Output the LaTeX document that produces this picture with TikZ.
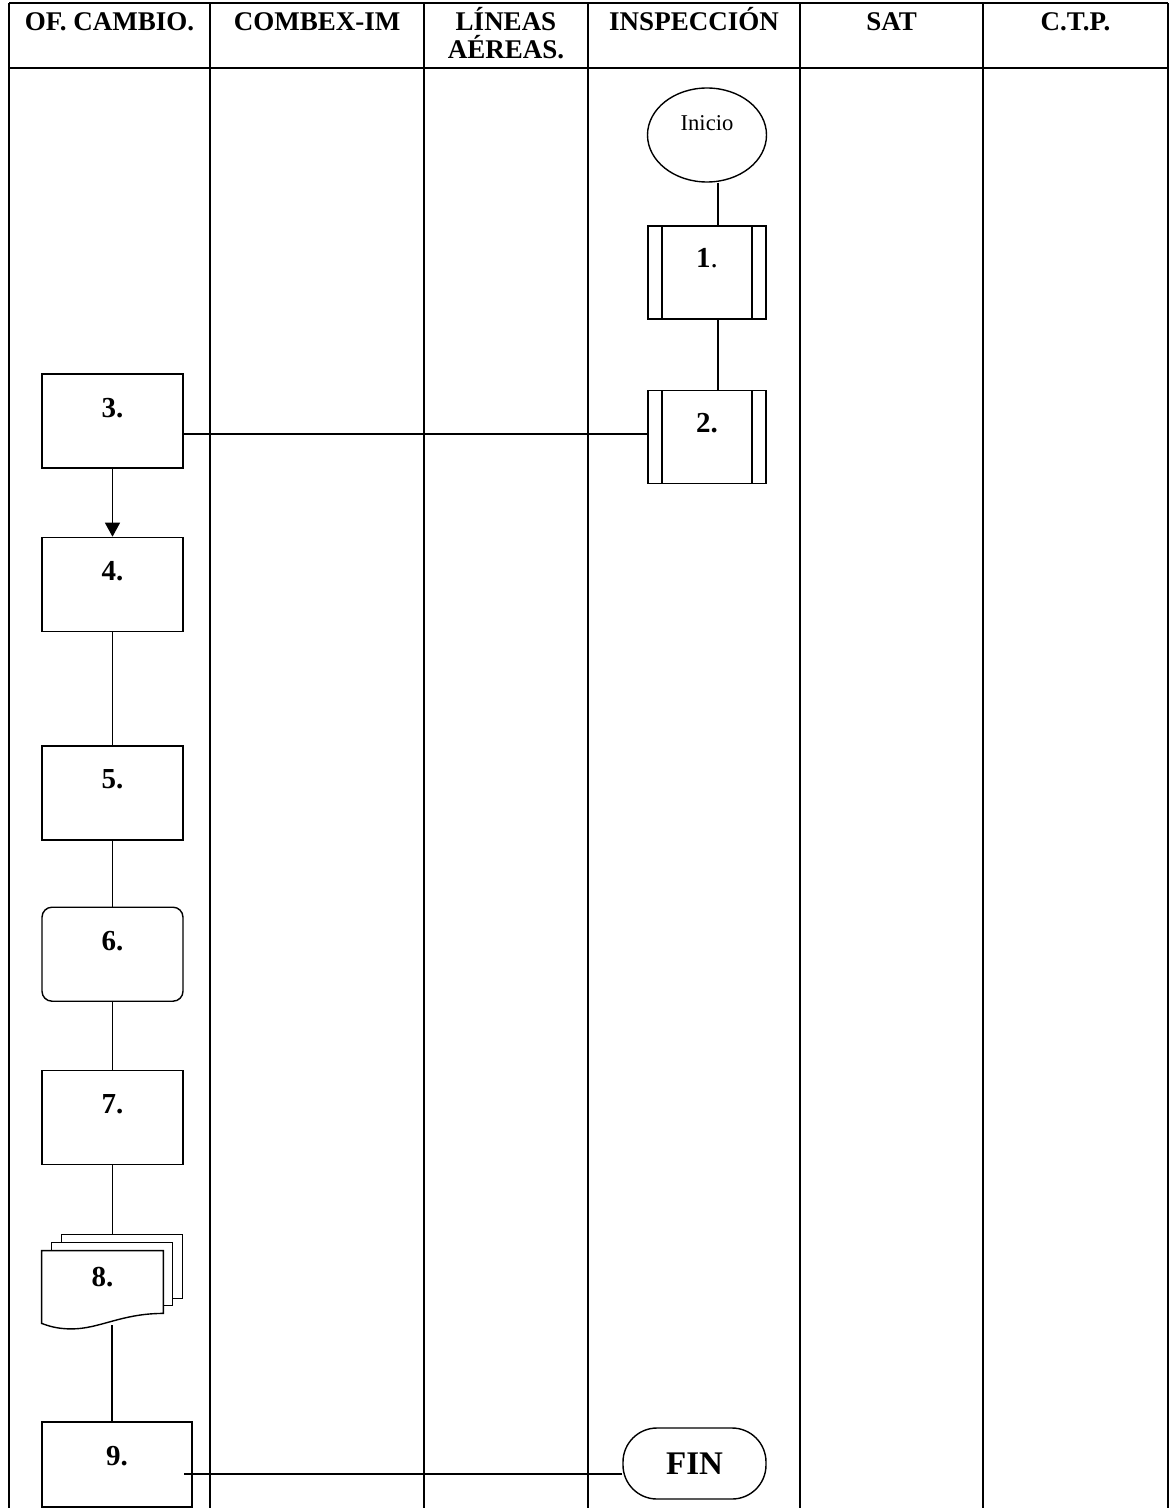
\documentclass[tikz,border=0pt]{standalone}
\usepackage{fontspec}
\setmainfont{Liberation Serif}
\usetikzlibrary{shapes,arrows.meta,positioning,calc}

\begin{document}
\begin{tikzpicture}[
    x=0.5pt, y=-0.5pt,
    node distance=35pt,
    grid/.style={line width=1pt},
    lane/.style={font=\bfseries\fontsize{13.5}{14}\selectfont, align=center, anchor=base, inner sep=0pt},
    proc/.style={rectangle, draw, line width=0.7pt, minimum width=70.5pt, inner sep=0pt, text height=21.5pt, text depth=25.5pt, font=\bfseries\fontsize{14.5}{17}\selectfont},
    subproc/.style={proc, minimum width=59pt, text height=21pt,
        path picture={\draw[line width=0.7pt] ([xshift=7pt]path picture bounding box.north west) -- ([xshift=7pt]path picture bounding box.south west)
                                              ([xshift=-7pt]path picture bounding box.north east) -- ([xshift=-7pt]path picture bounding box.south east);}},
    startnode/.style={ellipse, draw, line width=0.7pt, minimum width=59.5pt, minimum height=47pt, inner sep=0pt, text height=10pt, text depth=14pt, font=\fontsize{11.3}{13}\selectfont},
    endnode/.style={rectangle, draw, line width=0.7pt, rounded corners=17pt, minimum width=71.5pt, minimum height=35.5pt, font=\bfseries\fontsize{16.5}{18}\selectfont},
    page/.style={line width=0.7pt, fill=white},
    link/.style={line width=0.6pt},
    arrow/.style={-{Triangle[length=7pt,width=7.5pt]}, line width=0.6pt}
]
    \useasboundingbox (0,0) rectangle (1170,1508);

    % lanes
    \foreach \x in {9,210,424,588,800,983,1168}
        \draw[grid] (\x,3) -- (\x,1508);
    \draw[grid] (9,3) -- (1168,3);
    \draw[grid] (9,68) -- (1168,68);

    \node[lane] (hofc) at (109.5,31) {OF. CAMBIO.};
    \node[lane] (hcom) at (317,31) {COMBEX-IM};
    \node[lane] (hlin) at (506,59) {LÍNEAS\\AÉREAS.};
    \node[lane] (hins) at (694,31) {INSPECCIÓN};
    \node[lane] (hsat) at (891.5,31) {SAT};
    \node[lane] (hctp) at (1075.5,31) {C.T.P.};

    % inspeccion
    \node[startnode] (start) at (707,135) {Inicio};
    \node[subproc] (b1) at (707,272.5) {\textbf{1}\mdseries.};
    \node[subproc] (b2) at (707,437) {2.};
    \coordinate (b2out) at ([yshift=1.5pt]b2.west);

    % of. cambio
    \node[proc] (b3) at (112.5,421) {3.};
    \node[proc, below=34pt of b3] (b4) {4.};
    \node[proc, below=56.5pt of b4] (b5) {5.};
    \node[proc, rounded corners=5pt, below=33pt of b5] (b6) {6.};
    \node[proc, below=34pt of b6] (b7) {7.};
    \node[rectangle, minimum width=60.5pt, minimum height=31pt, inner sep=0pt] (b8) at (102.5,1282) {};
    \draw[page] ([xshift=10pt,yshift=4pt]b8.north west) -- ++(0,4pt) -- ++(60.5pt,0) -- ++(0,-32pt) -- ++(-5pt,0);
    \draw[page] ([xshift=5pt]b8.north west) -- ++(0,4pt) -- ++(60.5pt,0) -- ++(0,-31.5pt) -- ++(-5pt,0);
    \draw[page] (b8.south east) .. controls +(-21pt,0) and +(14pt,0) .. ([xshift=15pt,yshift=-7.75pt]b8.south west)
        .. controls +(-8pt,0) and +(3pt,-1pt) .. ([yshift=-5pt]b8.south west) -- (b8.north west) -- (b8.north east) -- cycle;
    \node[font=\bfseries\fontsize{14.5}{17}\selectfont, inner sep=0pt, anchor=base] (b8txt) at ([yshift=-18pt]b8.north) {8.};
    \coordinate (b8in) at ([xshift=5pt,yshift=8pt]b8.north);
    \coordinate (b8out) at ([xshift=4.75pt,yshift=-6pt]b8.south);
    \node[proc, minimum width=75pt, text depth=21pt] (b9) at (117,1464.5) {9.};
    \coordinate (b9in) at ([xshift=-4.5pt]b9.east);

    \node[endnode] (fin) at (694.5,1463.5) {FIN};
    \coordinate (finin) at ([yshift=-5.25pt]fin.west);

    % links
    \draw[link] ([xshift=5.5pt]start.south) -- ([xshift=5.5pt]b1.north);
    \draw[link] ([xshift=5.5pt]b1.south) -- ([xshift=5.5pt]b2.north);
    \draw[link] (b2out) -- (b3.east |- b2out);
    \draw[arrow] (b3) -- (b4);
    \draw[link] (b4) -- (b5);
    \draw[link] (b5) -- (b6);
    \draw[link] (b6) -- (b7);
    \draw[link] (b7.south) -- (b8in);
    \draw[link] (b8out) -- (b8out |- b9.north);
    \draw[link] (finin) -- (finin -| b9in);
\end{tikzpicture}
\end{document}
